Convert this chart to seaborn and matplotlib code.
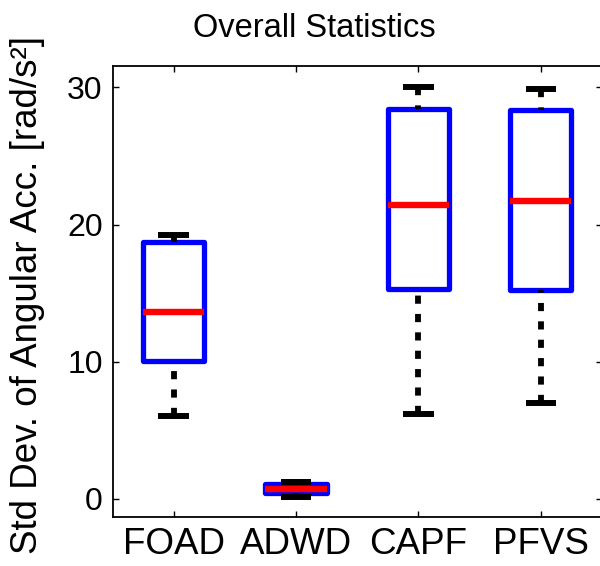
import numpy as np
import pandas as pd
import matplotlib
matplotlib.use('Agg')
import matplotlib.pyplot as plt
import seaborn as sns

# values (whisker ends, quartiles, median)
methods = ['FOAD', 'ADWD', 'CAPF', 'PFVS']
whisker_low = [6.0, 0.12, 6.2, 7.0]
q1 = [10.05, 0.42, 15.3, 15.2]
median = [13.65, 0.71, 21.45, 21.75]
q3 = [18.75, 1.09, 28.45, 28.35]
whisker_high = [19.25, 1.22, 30.05, 29.9]

# five points per method -> percentiles land exactly on the stats above
rows = []
for i, m in enumerate(methods):
    for v in (whisker_low[i], q1[i], median[i], q3[i], whisker_high[i]):
        rows.append({'method': m, 'value': v})
df = pd.DataFrame(rows)

sns.set_theme(style='white')
plt.rcParams['font.family'] = ['Liberation Sans', 'DejaVu Sans']
plt.rcParams['xtick.direction'] = 'in'
plt.rcParams['ytick.direction'] = 'in'

fig = plt.figure(figsize=(6, 5.66), dpi=100)
ax = fig.add_axes([112.5 / 600, 49 / 566, 489.5 / 600, 451 / 566])

sns.boxplot(data=df, x='method', y='value', ax=ax, whis=(0, 100), width=0.5,
            showfliers=False, color='white', linecolor='black',
            boxprops=dict(facecolor='white', edgecolor='#0000ff', linewidth=3.8,
                          joinstyle='round'),
            medianprops=dict(color='#ff0000', linewidth=4.6, solid_capstyle='butt'),
            whiskerprops=dict(color='black', linewidth=4.2, linestyle=(0, (1.4, 1.75))),
            capprops=dict(color='black', linewidth=4.3, solid_capstyle='butt'))

# MATLAB starts the dash pattern at the cap end
for ln in ax.lines:
    if ln.get_linestyle() == '--':
        ln.set_ydata(np.asarray(ln.get_ydata())[::-1])

ax.set_xlim(-0.5, 3.5)
ax.set_ylim(-1.33, 31.56)
ax.set_yticks([0, 10, 20, 30])
ax.set_xlabel('')
ax.set_ylabel('')
ax.tick_params(axis='both', which='both', top=True, right=True, bottom=True, left=True,
               length=4, width=1, color='black')
ax.tick_params(axis='y', labelsize=23, pad=7, labelcolor='black')
ax.tick_params(axis='x', labelsize=26.5, pad=7, labelcolor='black')
for s in ax.spines.values():
    s.set_color('black')
    s.set_linewidth(1.3)

fig.text(314 / 600, 1 - 37 / 566, 'Overall Statistics', ha='center', va='baseline',
         fontsize=23.5, color='black')
fig.text(28 / 600, 1 - 295 / 566, 'Std Dev. of Angular Acc. [rad/s²]', rotation=90,
         ha='center', va='center', fontsize=26.5, color='black')

fig.savefig('out.png', dpi=100)
